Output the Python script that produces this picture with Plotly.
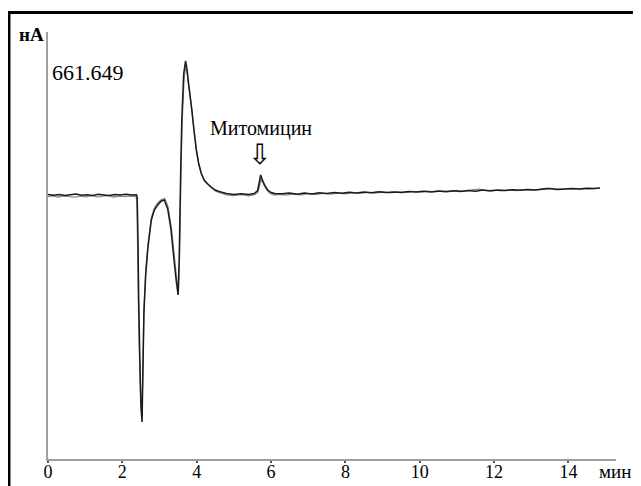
import plotly.graph_objects as go

# Time (min) and signal (arbitrary nA units)
t_dark = [0, 0.15, 0.3, 0.45, 0.6, 0.75, 0.9, 1.05, 1.2, 1.35, 1.5, 1.65, 1.8, 1.95, 2.1, 2.25, 2.38,
          2.40, 2.42, 2.44, 2.47, 2.50, 2.53, 2.55, 2.58, 2.63, 2.69, 2.78, 2.86, 2.95, 3.05, 3.13,
          3.22, 3.31, 3.39, 3.45, 3.50, 3.53, 3.57, 3.60, 3.65, 3.70, 3.74, 3.78, 3.86, 3.93, 3.99,
          4.05, 4.12, 4.2, 4.3, 4.39, 4.5, 4.6, 4.8, 5.0, 5.2, 5.4, 5.55, 5.64, 5.68, 5.72, 5.77,
          5.84, 5.91, 6.0, 6.1,
          6.3, 6.5, 6.7, 6.9, 7.1, 7.3, 7.5, 7.7, 7.9, 8.1, 8.3, 8.5, 8.7, 8.9, 9.1, 9.3, 9.5, 9.7,
          9.9, 10.1, 10.3, 10.5, 10.7, 10.9, 11.1, 11.3, 11.5, 11.7, 11.9, 12.1, 12.3, 12.5, 12.7,
          12.9, 13.1, 13.3, 13.5, 13.7, 13.9, 14.1, 14.3, 14.5, 14.7, 14.85]
v_dark = [264.5, 263.8, 264.6, 263.5, 264.2, 264.9, 263.7, 264.3, 263.6, 264.8, 264.1, 263.4, 264.6, 264.0, 264.7, 263.9, 264.3,
          262.0, 220.0, 160.0, 100.0, 55.0, 37.0, 80.0, 146.0, 185.0, 212.0, 239.0, 249.0, 254.0, 258.0, 259.0,
          250.0, 229.0, 199.0, 178.0, 164.0, 200.0, 290.0, 340.0, 385.0, 398.0, 390.0, 376.0, 352.0, 328.0, 309.0,
          296.0, 286.0, 279.0, 275.0, 272.0, 269.0, 267.5, 265.5, 264.6, 265.3, 264.4, 265.5, 268.5, 276.0, 284.0, 279.0,
          273.0, 269.0, 266.5, 265.5,
          265.2, 266.0, 264.8, 265.9, 265.1, 266.3, 265.4, 266.5, 265.7, 266.8, 265.9, 267.0, 266.2, 267.3, 266.4, 267.1, 266.6, 267.5,
          266.9, 267.8, 267.0, 268.1, 267.3, 268.2, 267.6, 268.6, 267.8, 268.9, 268.1, 269.0, 268.4, 269.3, 268.7,
          269.6, 268.9, 269.8, 270.4, 269.5, 270.1, 270.6, 269.9, 270.7, 270.4, 271.0]

t_gray = [0, 0.12, 0.27, 0.42, 0.57, 0.72, 0.87, 1.02, 1.17, 1.32, 1.47, 1.62, 1.77, 1.92, 2.07, 2.22, 2.37,
          2.39, 2.41, 2.43, 2.46, 2.49, 2.52, 2.55, 2.58, 2.63, 2.69, 2.78, 2.86, 2.95, 3.05, 3.14,
          3.23, 3.32, 3.40, 3.46, 3.51, 3.54, 3.58, 3.61, 3.66, 3.70, 3.74, 3.79, 3.87, 3.94, 4.0,
          4.06, 4.13, 4.21, 4.31, 4.4, 4.5, 4.6, 4.8, 5.0, 5.2, 5.4, 5.56, 5.65, 5.69, 5.73, 5.78,
          5.85, 5.92, 6.0, 6.1,
          6.2, 6.4, 6.6, 6.8, 7.0, 7.2, 7.4, 7.6, 7.8, 8.0, 8.2, 8.4, 8.6, 8.8, 9.0, 9.2, 9.4, 9.6,
          9.8, 10.0, 10.2, 10.4, 10.6, 10.8, 11.0, 11.2, 11.4, 11.6, 11.8, 12.0, 12.2, 12.4, 12.6,
          12.8, 13.0, 13.2, 13.4, 13.6, 13.8, 14.0, 14.2, 14.4, 14.6, 14.8]
v_gray = [262.3, 263.1, 262.0, 263.2, 262.4, 261.8, 262.9, 262.1, 263.3, 262.2, 262.8, 263.4, 262.0, 262.9, 262.3, 263.0, 262.4,
          258.0, 215.0, 158.0, 104.0, 60.0, 41.0, 84.0, 150.0, 189.0, 215.0, 241.0, 251.0, 256.0, 259.5, 260.5,
          252.0, 231.0, 202.0, 181.0, 168.0, 205.0, 292.0, 338.0, 380.0, 393.0, 386.0, 372.0, 349.0, 325.0, 307.0,
          294.0, 285.0, 278.0, 274.0, 271.0, 268.0, 266.5, 264.2, 263.5, 264.3, 263.2, 264.3, 266.8, 273.0, 280.0, 276.0,
          271.0, 267.5, 265.0, 264.0,
          264.6, 263.8, 265.0, 264.2, 265.3, 264.4, 265.6, 264.9, 266.0, 265.2, 266.3, 265.6, 266.7, 265.9, 267.0, 266.2, 267.2, 266.5,
          267.6, 266.8, 267.9, 267.1, 268.2, 267.5, 268.5, 267.6, 269.2, 269.8, 268.4, 268.9, 268.2, 269.1, 268.5,
          269.4, 268.8, 269.7, 270.8, 270.2, 269.6, 270.3, 269.8, 270.5, 270.2, 270.8]

x_ticks = [0, 2, 4, 6, 8, 10, 12, 14]
x_range = [0, 15.28]
y_range = [0, 427]

serif = "Liberation Serif"

fig = go.Figure()
fig.add_trace(go.Scatter(x=t_gray, y=v_gray, mode="lines",
                         line=dict(color="#8a8a8a", width=1.3, simplify=False), showlegend=False))
fig.add_trace(go.Scatter(x=t_dark, y=v_dark, mode="lines",
                         line=dict(color="#1a1a1a", width=1.5, simplify=False), showlegend=False))

fig.update_layout(
    template="none",
    width=633, height=478,
    margin=dict(l=40, r=25, t=24, b=27, autoexpand=False),
    paper_bgcolor="white", plot_bgcolor="white",
    font=dict(family=serif, size=18, color="black"),
    xaxis=dict(range=x_range, tickvals=x_ticks, ticktext=[str(v) for v in x_ticks],
               automargin=False, ticklabelstandoff=-7,
               showgrid=False, zeroline=False, showline=True, linecolor="#a0a0a0", linewidth=2,
               ticks="outside", ticklen=2, tickwidth=2, tickcolor="#555555",
               tickfont=dict(family=serif, size=18, color="black")),
    yaxis=dict(range=y_range, automargin=False, showgrid=False, zeroline=False, showline=True,
               linecolor="#a0a0a0", linewidth=2, showticklabels=False, ticks=""),
    shapes=[dict(type="rect", xref="paper", yref="paper",
                 x0=-0.0687, x1=1.3, y0=-0.3, y1=1.0457,
                 line=dict(color="black", width=3), fillcolor="rgba(0,0,0,0)")],
    annotations=[
        dict(text="661.649", xref="paper", yref="paper", x=0.004, y=0.906,
             xanchor="left", yanchor="middle", showarrow=False,
             font=dict(family=serif, size=22, color="black")),
        dict(text="нА", xref="paper", yref="paper", x=-0.003, y=0.995,
             xanchor="right", yanchor="middle", showarrow=False,
             font=dict(family=serif, size=19, color="black", weight="bold")),
        dict(text="мин", xref="paper", yref="paper", x=0.966, y=-0.030,
             xanchor="left", yanchor="middle", showarrow=False,
             font=dict(family=serif, size=19, color="black")),
        dict(text="Митомицин", xref="x", yref="y", x=5.72, y=331,
             xanchor="center", yanchor="middle", showarrow=False,
             font=dict(family=serif, size=20, color="black")),
        dict(text="⇩", xref="x", yref="y", x=5.70, y=305,
             xanchor="center", yanchor="middle", showarrow=False,
             font=dict(family="DejaVu Sans", size=28, color="black")),
    ],
)

fig.write_html("out.html")
